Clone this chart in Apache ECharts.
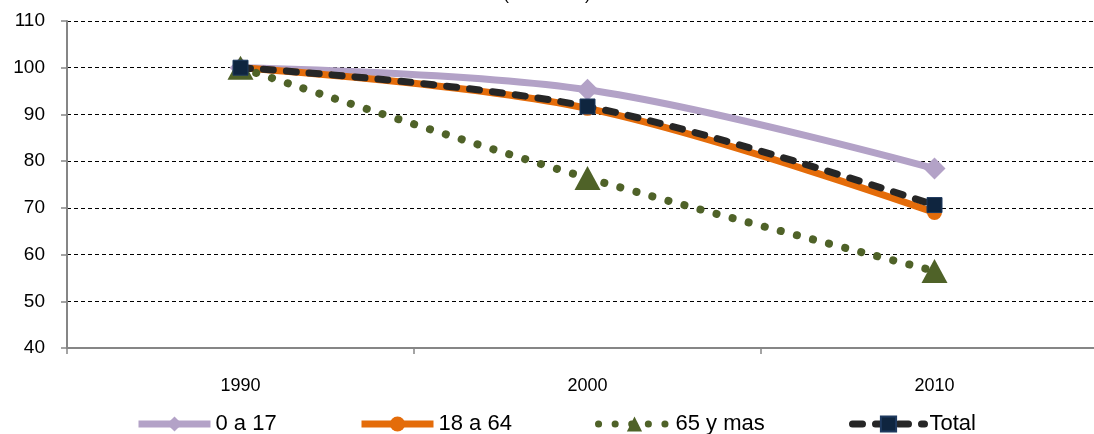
<!DOCTYPE html>
<html><head><meta charset="utf-8">
<script src="https://cdn.jsdelivr.net/npm/echarts@6/dist/echarts.min.js"></script>
<style>html,body{margin:0;padding:0;background:#fff}#c{width:1094px;height:434px}</style>
</head><body><div id="c"></div>
<script>
var categories = ['1990', '2000', '2010'];
var s0a17 = [100, 95.3, 78.4];
var s18a64 = [100, 91.3, 69.0];
var s65 = [100, 76.4, 56.5];
var sTotal = [100, 91.7, 70.6];
var names = ['0 a 17', '18 a 64', '65 y mas', 'Total'];
var titleText = '(1990=100)';

var chart = echarts.init(document.getElementById('c'));
var font = 'Liberation Sans, Arial, sans-serif';
function lg(name, left, lw) {
  return {data: [name], left: left, top: 413, itemWidth: 72, itemHeight: 19, itemGap: 0,
    lineStyle: {width: lw},
    textStyle: {fontFamily: font, fontSize: 22, color: '#000', padding: [0, 0, 0, 0]}, padding: 0};
}
chart.setOption({
  animation: false,
  title: {text: titleText, left: 'center', top: -18, textStyle: {fontFamily: font, fontSize: 17, fontWeight: 'normal', color: '#000'}},
  grid: {left: 67, width: 1041, top: 21, height: 327, containLabel: false, outerBoundsMode: 'none'},
  legend: [lg(names[0], 135, 7), lg(names[1], 358, 7), lg(names[2], 595, 7), lg(names[3], 849, 7)],
  xAxis: {type: 'category', data: categories, boundaryGap: true,
    axisLine: {lineStyle: {color: '#868686', width: 2}},
    axisTick: {show: true, length: 6, lineStyle: {color: '#868686', width: 1.5}},
    axisLabel: {fontFamily: font, fontSize: 18, color: '#000', margin: 29}},
  yAxis: {type: 'value', min: 40, max: 110, interval: 10,
    axisLine: {show: true, lineStyle: {color: '#868686', width: 2}},
    axisTick: {show: true, length: 6, lineStyle: {color: '#868686', width: 1.5}},
    axisLabel: {fontFamily: font, fontSize: 19, color: '#000', margin: 22},
    splitLine: {show: true, lineStyle: {color: '#000', width: 1, type: [4, 3]}}},
  series: [
    {name: names[0], type: 'line', data: s0a17, smooth: 0.35, symbol: 'diamond', symbolSize: 22,
      itemStyle: {color: '#B3A2C7'}, lineStyle: {color: '#B3A2C7', width: 7}, z: 2},
    {name: names[1], type: 'line', data: s18a64, smooth: 0.35, symbol: 'circle', symbolSize: 15,
      itemStyle: {color: '#E46C0A'}, lineStyle: {color: '#E46C0A', width: 7}, z: 3},
    {name: names[2], type: 'line', data: s65, smooth: 0.35, symbol: 'path://M5,0L10,9L0,9Z', symbolSize: [26, 24],
      itemStyle: {color: '#4F6228'}, lineStyle: {color: '#4F6228', width: 8, type: [0.1, 16.5], cap: 'round'}, z: 4},
    {name: names[3], type: 'line', data: sTotal, smooth: 0.35, symbol: 'rect', symbolSize: 15,
      itemStyle: {color: '#0F253F', borderColor: '#1F3A5F', borderWidth: 1}, lineStyle: {color: '#262626', width: 7, type: [10, 13], cap: 'round'}, z: 5}
  ]
});
</script></body></html>
